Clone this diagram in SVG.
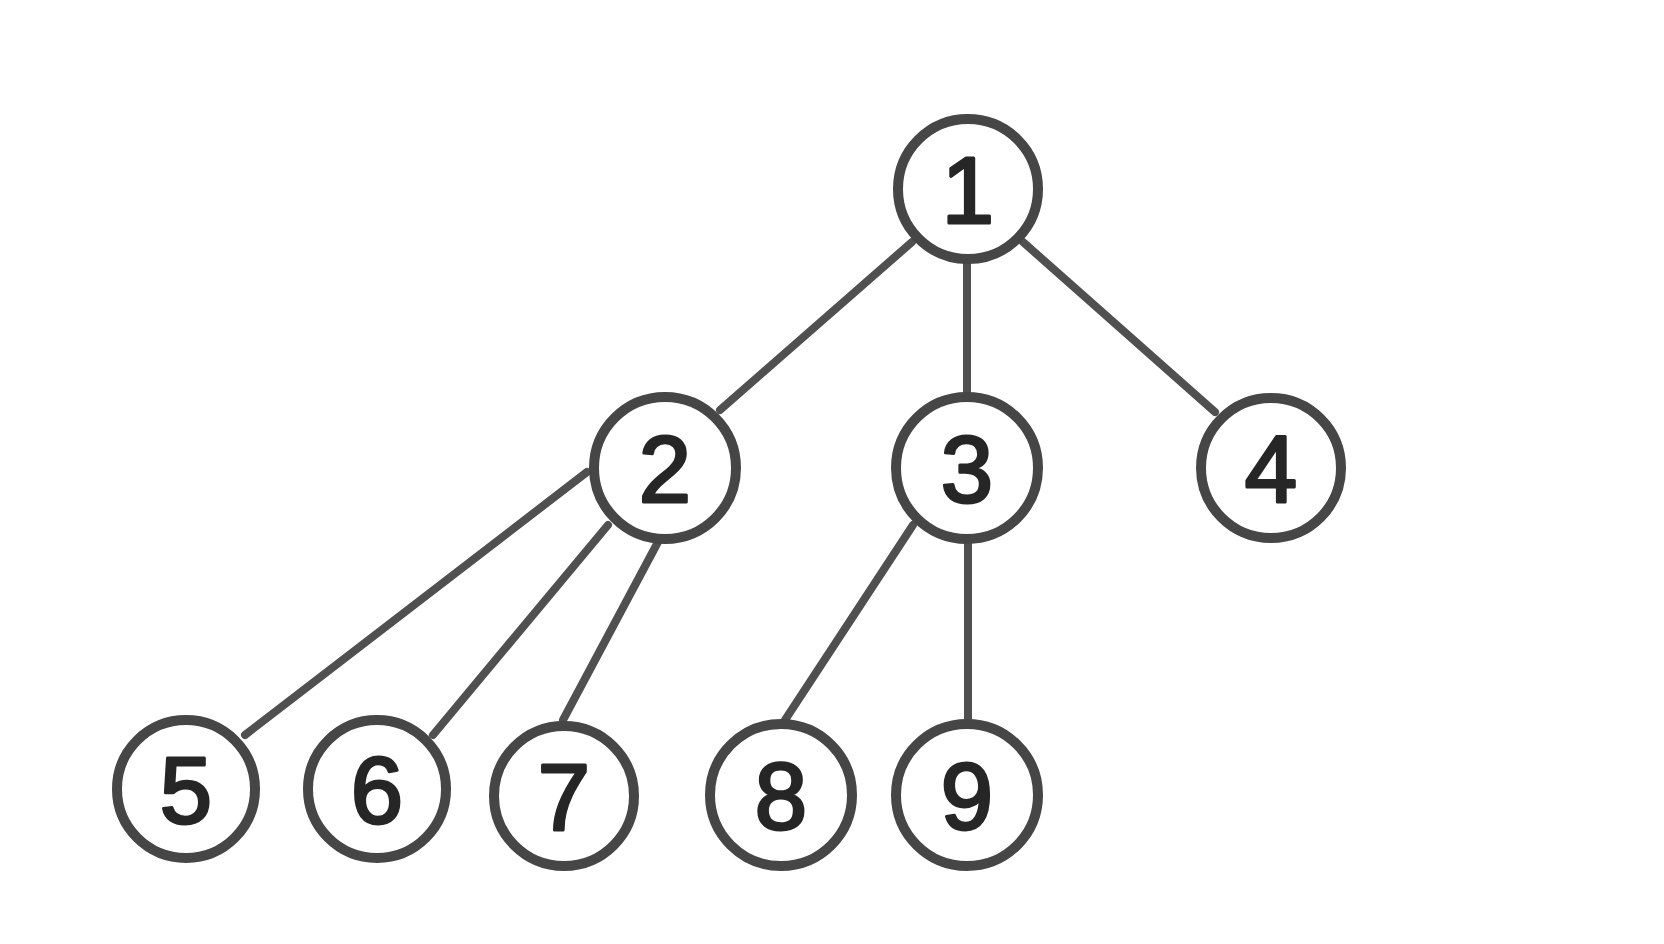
<svg xmlns="http://www.w3.org/2000/svg" width="1664" height="944" viewBox="0 0 1664 944">
<style>
.n circle{fill:#fff;stroke:#464646;stroke-width:10}
.n text{font-family:"Liberation Sans",Arial,sans-serif;font-size:94px;fill:#262626;text-anchor:middle;stroke:#262626;stroke-width:3;stroke-linejoin:round}
#edges line{stroke:#505050;stroke-width:8;stroke-linecap:round}
</style>
<rect width="1664" height="944" fill="#ffffff"/>
<g id="edges">
<line x1="912" y1="242" x2="720" y2="410"/>
<line x1="967" y1="263" x2="967" y2="392"/>
<line x1="1023" y1="242" x2="1215" y2="412"/>
<line x1="587" y1="472" x2="245" y2="735"/>
<line x1="608" y1="525" x2="433" y2="735"/>
<line x1="658" y1="542" x2="563" y2="720"/>
<line x1="913" y1="525" x2="785" y2="720"/>
<line x1="968" y1="543" x2="968" y2="720"/>
</g>
<g id="node1" class="n"><circle cx="968" cy="189" r="70"/><text x="968" y="223">1</text></g>
<g id="node2" class="n"><circle cx="665" cy="468" r="71"/><text x="665" y="502">2</text></g>
<g id="node3" class="n"><circle cx="967" cy="468" r="71"/><text x="967" y="502">3</text></g>
<g id="node4" class="n"><circle cx="1271" cy="468" r="70"/><text x="1271" y="502">4</text></g>
<g id="node5" class="n"><circle cx="186" cy="789" r="69"/><text x="186" y="823">5</text></g>
<g id="node6" class="n"><circle cx="377" cy="789" r="69"/><text x="377" y="823">6</text></g>
<g id="node7" class="n"><circle cx="564" cy="796" r="70"/><text x="564" y="830">7</text></g>
<g id="node8" class="n"><circle cx="781" cy="795" r="71"/><text x="781" y="829">8</text></g>
<g id="node9" class="n"><circle cx="967" cy="795" r="71"/><text x="967" y="829">9</text></g>
</svg>
